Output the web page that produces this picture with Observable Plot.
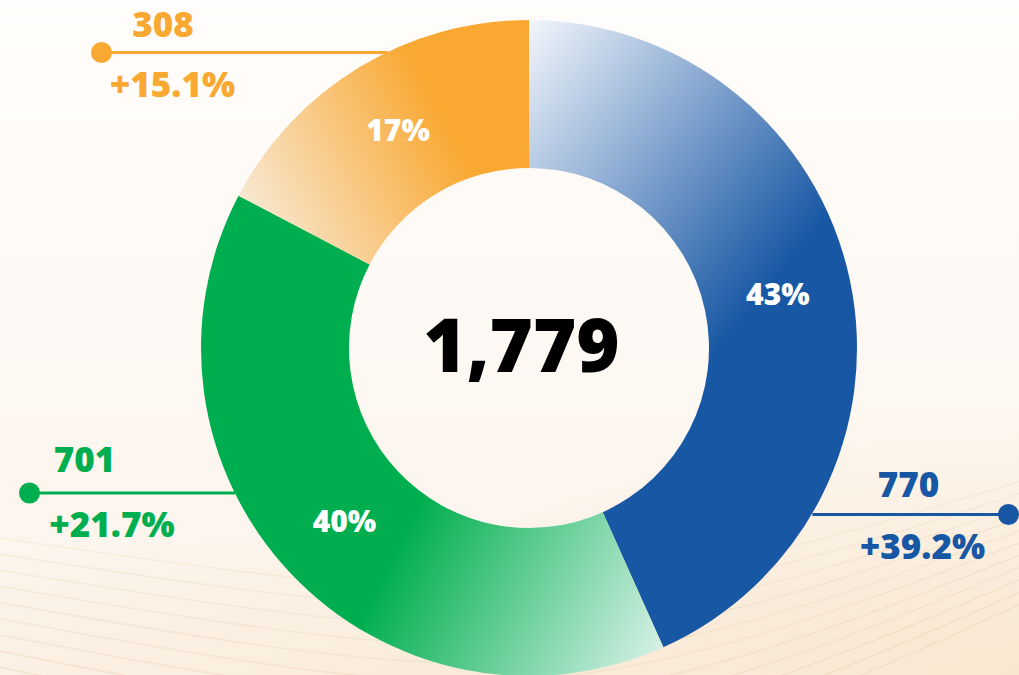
<!DOCTYPE html>
<html>
<head>
<meta charset="utf-8">
<script src="https://cdn.jsdelivr.net/npm/d3@7"></script>
<script src="https://cdn.jsdelivr.net/npm/@observablehq/plot@0.6"></script>
<style>
  html, body { margin: 0; padding: 0; width: 1019px; height: 675px; overflow: hidden; }
  body {
    position: relative;
    background:
      radial-gradient(ellipse 65% 40% at 100% 100%, rgba(248,230,206,0.9) 0%, rgba(248,230,206,0) 100%),
      radial-gradient(ellipse 70% 22% at 45% 100%, rgba(249,234,215,0.8) 0%, rgba(249,234,215,0) 100%),
      linear-gradient(to bottom, #fffdfb 0%, #fdf8f2 55%, #fcf3e9 100%);
    font-family: "Open Sans", "Noto Sans", sans-serif;
  }
  #bg { position: absolute; left: 0; top: 0; }
  #chart { position: absolute; left: 0; top: 0; }
  #chart svg { display: block; }
</style>
</head>
<body>
<svg id="bg" width="1019" height="675"></svg>
<div id="chart"></div>
<script>
// ---- data ----
const segments = ["blue", "green", "orange"];
const values = [770, 701, 308];
const shareLabels = ["43%", "40%", "17%"];
const changeLabels = ["+39.2%", "+21.7%", "+15.1%"];
const totalLabel = "1,779";
const colors = ["#1857a4", "#00ae4f", "#f9a831"];
const lightColors = ["#f1f5fb", "#e3f5ef", "#f8e8d2"];

// ---- layout (pixels) ----
const W = 1019, H = 675;
const CX = 529, CY = 348, R = 328, INNER = 180 / 328;
const layout = {
  blue:   {side: 1,  lineY: 166,   dotX: 479,  value: [379, 137],    change: [393, 199.5]},
  green:  {side: -1, lineY: 144.5, dotX: -500, value: [-445, 112],   change: [-417.5, 177]},
  orange: {side: -1, lineY: -296,  dotX: -428, value: [-366.5, -323], change: [-357, -263]}
};
// gradient vectors in page px; stop value 1 = light colour, 0 = solid colour
const gradients = {
  blue:   {from: [530, 22],  to: [805, 245], stops: [[0, 1], [1, 0]]},
  green:  {from: [400, 540], to: [668, 678], stops: [[0, 0], [1, 1]]},
  orange: {from: [245, 205], to: [440, 105], stops: [[0, 1], [1, 0]]}
};

// decorative background waves
(function waves() {
  const bg = d3.select("#bg");
  const line = d3.line().curve(d3.curveBasis);
  for (let k = 0; k < 11; k++) {
    const y0 = 545 + k * 16;
    const pts = [[-20, y0 - 10], [250, y0 + 30 + k * 2], [520, y0 + 55 + k * 3], [780, y0 + 10], [1040, y0 - 70 - k * 4]];
    bg.append("path").attr("d", line(pts)).attr("fill", "none")
      .attr("stroke", "#e9cfae").attr("stroke-opacity", 0.28 + k * 0.02).attr("stroke-width", 1.3);
  }
})();

const u = p => p / R;
const pie = d3.pie().sort(null).value(d => d.value).startAngle(0).endAngle(2 * Math.PI);
const rows = segments.map((s, i) => ({
  key: s, value: values[i], share: shareLabels[i], change: changeLabels[i],
  color: colors[i], light: lightColors[i]
}));
const arcs = pie(rows);
const centroidArc = d3.arc().innerRadius(INNER).outerRadius(1);
arcs.forEach(a => {
  const [x, y] = centroidArc.centroid(a);
  a.data.cx = x; a.data.cy = y;
  const L = layout[a.data.key];
  a.data.lineY = u(L.lineY);
  a.data.dotX = u(L.dotX);
  a.data.edgeX = L.side * Math.sqrt(1 - u(L.lineY) ** 2);
  a.data.vx = u(L.value[0]); a.data.vy = u(L.value[1]);
  a.data.chx = u(L.change[0]); a.data.chy = u(L.change[1]);
});
const data = arcs.map(a => a.data);

// custom mark: donut slices positioned through the x/y scales
function donut(index, scales) {
  const cx = scales.x(0), cy = scales.y(0);
  const rOut = scales.x(1) - scales.x(0);
  const g = d3.create("svg:g");
  const defs = g.append("defs");
  arcs.forEach(a => {
    const gr = gradients[a.data.key];
    const lg = defs.append("linearGradient")
      .attr("id", "grad-" + a.data.key)
      .attr("gradientUnits", "userSpaceOnUse")
      .attr("x1", gr.from[0] - cx).attr("y1", gr.from[1] - cy)
      .attr("x2", gr.to[0] - cx).attr("y2", gr.to[1] - cy);
    gr.stops.forEach(([off, light]) => {
      lg.append("stop").attr("offset", off)
        .attr("stop-color", light ? a.data.light : a.data.color);
    });
  });
  const arc = d3.arc().innerRadius(rOut * INNER).outerRadius(rOut);
  g.append("g").attr("transform", `translate(${cx},${cy})`)
    .selectAll("path").data(arcs).join("path")
    .attr("d", arc)
    .attr("fill", a => `url(#grad-${a.data.key})`);
  return g.node();
}

const bold = {fontFamily: "'Open Sans', sans-serif", fontWeight: 800};

const plot = Plot.plot({
  width: W, height: H,
  margin: 0,
  style: {background: "transparent", overflow: "visible"},
  x: {domain: [u(-CX), u(W - CX)], range: [0, W], axis: null},
  y: {domain: [u(-CY), u(H - CY)], range: [0, H], axis: null},
  marks: [
    Plot.link(data, {x1: "dotX", x2: "edgeX", y1: "lineY", y2: "lineY", stroke: "color", strokeWidth: 3}),
    donut,
    Plot.dot(data, {x: "dotX", y: "lineY", r: 10.5, fill: "color", stroke: null}),
    Plot.text(data, {x: "cx", y: "cy", text: "share", fill: "white", fontSize: 30, ...bold, letterSpacing: "1px"}),
    Plot.text(data, {x: "vx", y: "vy", text: d => d3.format(",")(d.value), fill: "color", fontSize: 35, ...bold, letterSpacing: "2.5px"}),
    Plot.text(data, {x: "chx", y: "chy", text: "change", fill: "color", fontSize: 35, ...bold, letterSpacing: "1.5px"}),
    Plot.text([totalLabel], {x: 0, y: 0, dx: -8, text: d => d, fill: "#000", fontSize: 74, ...bold, letterSpacing: "1px"})
  ]
});
plot.querySelectorAll("text").forEach(t => t.style.fontWeight = 800);
document.getElementById("chart").append(plot);
</script>
</body>
</html>
